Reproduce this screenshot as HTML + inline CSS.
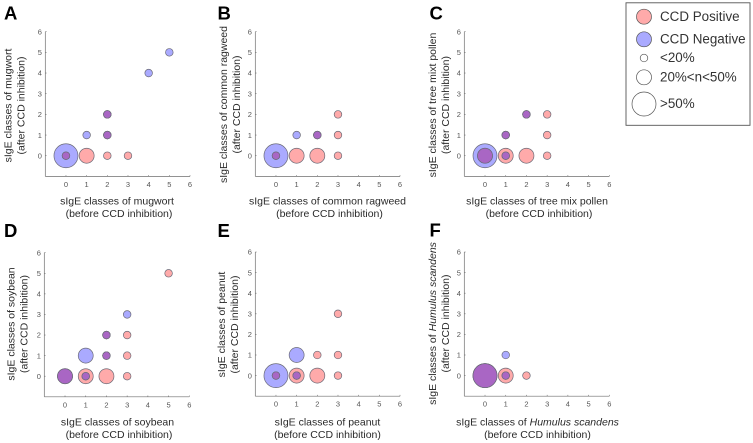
<!DOCTYPE html>
<html>
<head>
<meta charset="utf-8">
<title>sIgE classes before and after CCD inhibition</title>
<style>
html,body{margin:0;padding:0;background:#fff;}
svg{display:block;font-family:"Liberation Sans",sans-serif;}
</style>
</head>
<body>
<svg id="chart" xmlns="http://www.w3.org/2000/svg" width="753" height="443" viewBox="0 0 753 443"></svg>
<script>
// Shared axis values
const tickValues = [0, 1, 2, 3, 4, 5, 6];
const axisMin = -1;
const axisMax = 6;

// Panel A: mugwort
const aPosX = [0, 1, 2, 3, 2, 2];
const aPosY = [0, 0, 0, 0, 1, 2];
const aPosSize = ['s', 'm', 's', 's', 's', 's'];
const aNegX = [0, 1, 2, 2, 4, 5];
const aNegY = [0, 1, 1, 2, 4, 5];
const aNegSize = ['l', 's', 's', 's', 's', 's'];

// Panel B: common ragweed
const bPosX = [0, 1, 2, 3, 2, 3, 3];
const bPosY = [0, 0, 0, 0, 1, 1, 2];
const bPosSize = ['s', 'm', 'm', 's', 's', 's', 's'];
const bNegX = [0, 1, 2];
const bNegY = [0, 1, 1];
const bNegSize = ['l', 's', 's'];

// Panel C: tree mix pollen
const cPosX = [0, 1, 2, 3, 1, 3, 2, 3];
const cPosY = [0, 0, 0, 0, 1, 1, 2, 2];
const cPosSize = ['m', 'm', 'm', 's', 's', 's', 's', 's'];
const cNegX = [0, 1, 1, 2];
const cNegY = [0, 0, 1, 2];
const cNegSize = ['l', 's', 's', 's'];

// Panel D: soybean
const dPosX = [0, 1, 2, 3, 2, 3, 2, 3, 5];
const dPosY = [0, 0, 0, 0, 1, 1, 2, 2, 5];
const dPosSize = ['m', 'm', 'm', 's', 's', 's', 's', 's', 's'];
const dNegX = [0, 1, 1, 2, 2, 3];
const dNegY = [0, 0, 1, 1, 2, 3];
const dNegSize = ['m', 's', 'm', 's', 's', 's'];

// Panel E: peanut
const ePosX = [0, 1, 2, 3, 2, 3, 3];
const ePosY = [0, 0, 0, 0, 1, 1, 3];
const ePosSize = ['s', 'm', 'm', 's', 's', 's', 's'];
const eNegX = [0, 1, 1];
const eNegY = [0, 0, 1];
const eNegSize = ['l', 's', 'm'];

// Panel F: Humulus scandens
const fPosX = [0, 1, 2];
const fPosY = [0, 0, 0];
const fPosSize = ['l', 'm', 's'];
const fNegX = [0, 1, 1];
const fNegY = [0, 0, 1];
const fNegSize = ['l', 's', 's'];

const NS = 'http://www.w3.org/2000/svg';
const root = document.getElementById('chart');
const COLOR_POS = '#ffaaaa';
const COLOR_NEG = '#aaaaff';
const COLOR_BOTH = '#a966c4';
const COLOR_EDGE = '#6b6b78';
const COLOR_AXIS = '#6e6e6e';
const COLOR_TICK = '#555555';
const COLOR_LABEL = '#2a2a2a';

function radius(cls) {
  return cls === 'l' ? 12 : cls === 'm' ? 7.5 : 3.8;
}
function make(tag, attrs, parent) {
  const el = document.createElementNS(NS, tag);
  for (const k in attrs) el.setAttribute(k, attrs[k]);
  parent.appendChild(el);
  return el;
}
function addLabel(group, text, x, y, rotate, name) {
  const t = make('text', {
    x: x, y: y, 'text-anchor': 'middle', 'font-size': 10.5, fill: COLOR_LABEL
  }, group);
  
  
  if (rotate) t.setAttribute('transform', 'rotate(-90 ' + x + ' ' + y + ')');
  const parts = text.split('*');
  parts.forEach(function (part, i) {
    const s = make('tspan', {}, t);
    if (i % 2 === 1) s.setAttribute('font-style', 'italic');
    s.textContent = part;
  });
}

function drawPanel(p) {
  const g = make('g', {}, root);
  
  

  const sx = function (v) { return p.left + (v - axisMin) / (axisMax - axisMin) * (p.right - p.left); };
  const sy = function (v) { return p.bottom - (v - axisMin) / (axisMax - axisMin) * (p.bottom - p.top); };

  const letter = make('text', {
    x: p.letterX, y: p.letterY, 'font-size': 18.5, 'font-weight': 'bold', fill: '#000'
  }, g);
  
  
  letter.textContent = p.letter;

  const xAxis = make('line', { x1: p.left, x2: p.right, y1: p.bottom, y2: p.bottom, stroke: COLOR_AXIS, 'stroke-width': 0.7 }, g);
  
  
  const yAxis = make('line', { x1: p.left, x2: p.left, y1: p.top, y2: p.bottom, stroke: COLOR_AXIS, 'stroke-width': 0.7 }, g);
  
  

  tickValues.forEach(function (v) {
    const xt = make('line', { x1: sx(v), x2: sx(v), y1: p.bottom, y2: p.bottom - 1.3, stroke: COLOR_AXIS, 'stroke-width': 0.6 }, g);
    
    
    const yt = make('line', { x1: p.left, x2: p.left + 1.3, y1: sy(v), y2: sy(v), stroke: COLOR_AXIS, 'stroke-width': 0.6 }, g);
    
    
    const xl = make('text', { x: sx(v), y: p.bottom + 10.5, 'text-anchor': 'middle', 'font-size': 7.5, fill: COLOR_TICK }, g);
    
    
    xl.textContent = v;
    const yl = make('text', { x: p.left - 3.4, y: sy(v) + 2.7, 'text-anchor': 'end', 'font-size': 7.5, fill: COLOR_TICK }, g);
    
    
    yl.textContent = v;
  });

  const marks = [];
  p.posX.forEach(function (x, i) { marks.push({ x: x, y: p.posY[i], size: p.posSize[i], type: 'pos' }); });
  p.negX.forEach(function (x, i) { marks.push({ x: x, y: p.negY[i], size: p.negSize[i], type: 'neg' }); });
  marks.sort(function (a, b) { return radius(b.size) - radius(a.size); });

  marks.forEach(function (m) {
    const c = make('circle', {
      cx: sx(m.x), cy: sy(m.y), r: radius(m.size),
      fill: m.type === 'pos' ? COLOR_POS : COLOR_NEG,
      stroke: COLOR_EDGE, 'stroke-width': 0.7
    }, g);
    
    
  });

  // Overlap of the two groups is drawn purple at the smaller circle's size
  p.posX.forEach(function (x, i) {
    p.negX.forEach(function (nx, j) {
      if (nx === x && p.negY[j] === p.posY[i]) {
        const r = Math.min(radius(p.posSize[i]), radius(p.negSize[j]));
        const c = make('circle', {
          cx: sx(x), cy: sy(p.posY[i]), r: r,
          fill: COLOR_BOTH, stroke: COLOR_EDGE, 'stroke-width': 0.7
        }, g);
        
        
      }
    });
  });

  addLabel(g, p.yLabel1, p.yL1, p.yMid, true, 'y-axis-title');
  addLabel(g, '(after CCD inhibition)', p.yL2, p.yMid, true, 'y-axis-subtitle');
  addLabel(g, p.xLabel, p.xMid1, p.xB1, false, 'x-axis-title');
  addLabel(g, '(before CCD inhibition)', p.xMid2, p.xB2, false, 'x-axis-subtitle');
}

drawPanel({ letter: 'A', letterX: 4, letterY: 19.5, left: 45.3, right: 190, top: 31.7, bottom: 176.4,
  posX: aPosX, posY: aPosY, posSize: aPosSize, negX: aNegX, negY: aNegY, negSize: aNegSize,
  yLabel1: 'sIgE classes of mugwort', yL1: 11.5, yL2: 24.5, yMid: 105.5,
  xLabel: 'sIgE classes of mugwort', xMid1: 117, xB1: 204.5, xMid2: 119, xB2: 217 });
drawPanel({ letter: 'B', letterX: 217.5, letterY: 19.5, left: 255.3, right: 400, top: 31.7, bottom: 176.4,
  posX: bPosX, posY: bPosY, posSize: bPosSize, negX: bNegX, negY: bNegY, negSize: bNegSize,
  yLabel1: 'sIgE classes of common ragweed', yL1: 227, yL2: 240, yMid: 104.5,
  xLabel: 'sIgE classes of common ragweed', xMid1: 327.5, xB1: 204.5, xMid2: 329.5, xB2: 217 });
drawPanel({ letter: 'C', letterX: 429.5, letterY: 19.5, left: 464.3, right: 609.3, top: 31.7, bottom: 176.4,
  posX: cPosX, posY: cPosY, posSize: cPosSize, negX: cNegX, negY: cNegY, negSize: cNegSize,
  yLabel1: 'sIgE classes of  tree mixt pollen', yL1: 436, yL2: 449, yMid: 105,
  xLabel: 'sIgE classes of tree mix pollen', xMid1: 537, xB1: 204.5, xMid2: 539, xB2: 217 });
drawPanel({ letter: 'D', letterX: 4, letterY: 237, left: 44.3, right: 189.3, top: 252.7, bottom: 396.8,
  posX: dPosX, posY: dPosY, posSize: dPosSize, negX: dNegX, negY: dNegY, negSize: dNegSize,
  yLabel1: 'sIgE classes of soybean', yL1: 14.5, yL2: 27.5, yMid: 324,
  xLabel: 'sIgE classes of soybean', xMid1: 117.5, xB1: 425.5, xMid2: 119, xB2: 438 });
drawPanel({ letter: 'E', letterX: 217.5, letterY: 237, left: 255.3, right: 400, top: 252, bottom: 396.2,
  posX: ePosX, posY: ePosY, posSize: ePosSize, negX: eNegX, negY: eNegY, negSize: eNegSize,
  yLabel1: 'sIgE classes of peanut', yL1: 225, yL2: 238, yMid: 324.5,
  xLabel: 'sIgE classes of peanut', xMid1: 327.5, xB1: 425.5, xMid2: 327.5, xB2: 438 });
drawPanel({ letter: 'F', letterX: 429.5, letterY: 236.5, left: 464.3, right: 609.3, top: 252, bottom: 396.2,
  posX: fPosX, posY: fPosY, posSize: fPosSize, negX: fNegX, negY: fNegY, negSize: fNegSize,
  yLabel1: 'sIgE classes of *Humulus scandens*', yL1: 436, yL2: 449, yMid: 323.5,
  xLabel: 'sIgE classes of *Humulus scandens*', xMid1: 537.5, xB1: 425.5, xMid2: 537.5, xB2: 438 });

// Legend
const legend = make('g', {}, root);


const legendBox = make('rect', { x: 626, y: 2.8, width: 124, height: 122.5, fill: '#fff', stroke: '#555', 'stroke-width': 0.9 }, legend);



const legendLabels = ['CCD Positive', 'CCD Negative', '<20%', '20%<n<50%', '>50%'];
const legendSizes = ['m', 'm', 's', 'm', 'l'];
const legendFills = [COLOR_POS, COLOR_NEG, '#ffffff', '#ffffff', '#ffffff'];
const legendRows = [16.7, 39.3, 58, 77.3, 104];
legendLabels.forEach(function (label, i) {
  const c = make('circle', { cx: 644, cy: legendRows[i], r: radius(legendSizes[i]), fill: legendFills[i], stroke: '#555', 'stroke-width': 0.7 }, legend);
  
  
  const t = make('text', { x: 660, y: legendRows[i] + 4.2, 'font-size': 13.4, fill: '#333' }, legend);
  
  
  t.textContent = label;
});
</script>
</body>
</html>
